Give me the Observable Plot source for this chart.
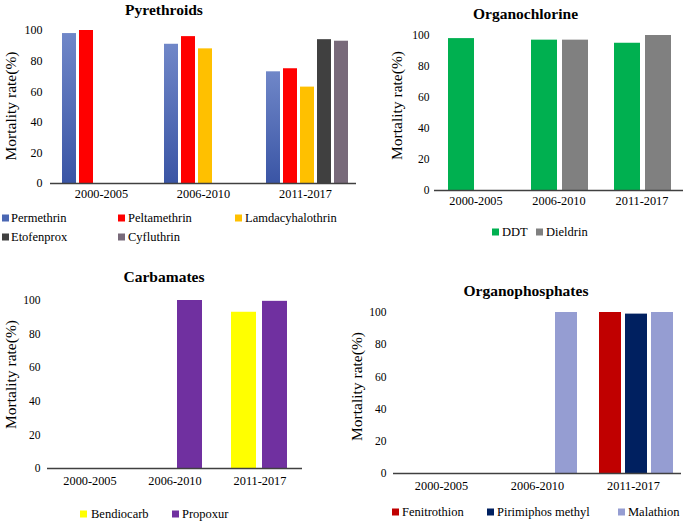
<!DOCTYPE html>
<html><head><meta charset="utf-8">
<script src="https://cdn.jsdelivr.net/npm/d3@7"></script>
<script src="https://cdn.jsdelivr.net/npm/@observablehq/plot@0.6"></script>
<style>
body{margin:0;background:#fff;}
#chart{position:relative;width:685px;height:522px;overflow:hidden;font-family:"Liberation Serif","Times New Roman",serif;color:#000;}
.title{position:absolute;font-weight:bold;font-size:15.5px;transform:translate(-50%,-50%);white-space:nowrap;line-height:1;}
.leg{position:absolute;font-size:12.5px;white-space:nowrap;transform:translateY(-50%);line-height:1;}
.sw{position:absolute;width:7px;height:7px;transform:translateY(-50%);}
.panel{position:absolute;}
</style></head><body><div id="chart"></div>
<script>
// ---- data ----
const periods = ["2000-2005", "2006-2010", "2011-2017"];
const yTicks = [0, 20, 40, 60, 80, 100];
const yLabel = "Mortality rate(%)";

// Pyrethroids
const pyrSeries = ["Permethrin", "Peltamethrin", "Lamdacyhalothrin", "Etofenprox", "Cyfluthrin"];
const permethrin = [98, 91, 73];
const peltamethrin = [100, 96, 75];
const lamdacyhalothrin = [null, 88, 63];
const etofenprox = [null, null, 94];
const cyfluthrin = [null, null, 93];
const pyrColors = ["url(#permGrad)", "#ff0000", "#ffc000", "#404040", "#786a7a"];
const pyrLegendColors = ["#4a67b3", "#ff0000", "#ffc000", "#404040", "#786a7a"];

// Organochlorine
const ocSeries = ["DDT", "Dieldrin"];
const ddt = [98, 97, 95];
const dieldrin = [null, 97, 100];
const ocColors = ["#00b050", "#808080"];

// Carbamates
const cbSeries = ["Bendiocarb", "Propoxur"];
const bendiocarb = [null, null, 93];
const propoxur = [null, 100, 99.5];
const cbColors = ["#ffff00", "#7030a0"];

// Organophosphates
const opSeries = ["Fenitrothion", "Pirimiphos methyl", "Malathion"];
const fenitrothion = [null, null, 100];
const pirimiphos = [null, null, 99];
const malathion = [null, 100, 100];
const opColors = ["#c00000", "#002060", "#959dd2"];

function rowsFrom(series, arrays) {
  const out = [];
  series.forEach((s, i) => arrays[i].forEach((v, j) => {
    if (v != null) out.push({period: periods[j], series: s, value: v});
  }));
  return out;
}

const chart = document.getElementById("chart");

function addDiv(cls, css, text) {
  const d = document.createElement("div");
  d.className = cls;
  Object.assign(d.style, css);
  if (text != null) d.textContent = text;
  chart.appendChild(d);
  return d;
}

function makePanel(cfg) {
  const rows = rowsFrom(cfg.series, cfg.values);
  const frameTop = cfg.mt, frameBottom = cfg.height - cfg.mb;
  const svg = Plot.plot({
    width: cfg.width, height: cfg.height,
    marginLeft: cfg.ml, marginRight: cfg.mr, marginTop: cfg.mt, marginBottom: cfg.mb,
    style: {fontFamily: '"Liberation Serif", "Times New Roman", serif', background: "transparent", overflow: "visible", color: "#000"},
    fx: {domain: periods, padding: 0},
    x: {domain: cfg.series, paddingInner: cfg.pi, paddingOuter: cfg.po, align: cfg.align, axis: null},
    y: {domain: [0, 100], axis: null},
    color: {domain: cfg.series, range: cfg.colors},
    marks: [
      Plot.barY(rows, {fx: "period", x: "series", y: "value", fill: "series"}),
      Plot.ruleY([0], {stroke: "#404040", strokeWidth: 1.5}),
      Plot.axisY({ticks: yTicks, tickSize: 0, tickPadding: cfg.tp, fontSize: cfg.tf, label: null, line: true, stroke: "#404040", strokeWidth: 1.5}),
      Plot.axisFx({anchor: "bottom", tickSize: 0, tickPadding: cfg.cp, fontSize: 12.3, label: null}),
      Plot.text([{period: periods[0]}], {fx: "period", frameAnchor: "left", rotate: -90, textAnchor: "middle",
        text: () => yLabel, dx: cfg.ylx - (cfg.left + cfg.ml), dy: cfg.yly - (cfg.top + (frameTop + frameBottom) / 2),
        fontSize: 15.5, fill: "#000"})
    ]
  });
  d3.select(svg).insert("defs", ":first-child").html(
    '<linearGradient id="permGrad" x1="0" y1="0" x2="0" y2="1">' +
    '<stop offset="0" stop-color="#7087c8"/><stop offset="1" stop-color="#3a55a5"/></linearGradient>');
  const wrap = addDiv("panel", {left: cfg.left + "px", top: cfg.top + "px", width: cfg.width + "px", height: cfg.height + "px"});
  wrap.appendChild(svg);
  addDiv("title", {left: cfg.title[1] + "px", top: cfg.title[2] + "px"}, cfg.title[0]);
  cfg.legend.forEach(([name, color, sx, tx, y]) => {
    addDiv("sw", {left: sx + "px", top: y + "px", background: color});
    addDiv("leg", {left: tx + "px", top: y + "px"}, name);
  });
}

makePanel({
  left: 0, top: 20, width: 360, height: 195, ml: 49, mr: 4, mt: 10, mb: 32,
  series: pyrSeries, colors: pyrColors,
  values: [permethrin, peltamethrin, lamdacyhalothrin, etofenprox, cyfluthrin],
  pi: 0.167, po: 0.43, align: 0.6, tp: 8, tf: 12, cp: 6,
  ylx: 10, yly: 105.5,
  title: ["Pyrethroids", 164, 9.5],
  legend: [
    [pyrSeries[0], pyrLegendColors[0], 2, 11, 218],
    [pyrSeries[1], pyrLegendColors[1], 118, 128, 218],
    [pyrSeries[2], pyrLegendColors[2], 235, 245, 218],
    [pyrSeries[3], pyrLegendColors[3], 2, 11, 237],
    [pyrSeries[4], pyrLegendColors[4], 118, 128, 237]
  ]
});

makePanel({
  left: 380, top: 20, width: 305, height: 195, ml: 53, mr: 1, mt: 15, mb: 25,
  series: ocSeries, colors: ocColors,
  values: [ddt, dieldrin],
  pi: 0.175, po: 0.413, align: 0.53, tp: 5, tf: 11.5, cp: 6,
  ylx: 395.5, yly: 105,
  title: ["Organochlorine", 525.5, 13.5],
  legend: [
    [ocSeries[0], ocColors[0], 492, 502, 232],
    [ocSeries[1], ocColors[1], 536, 546, 232]
  ]
});

makePanel({
  left: 0, top: 285, width: 320, height: 205, ml: 46, mr: 17, mt: 15, mb: 22,
  series: cbSeries, colors: cbColors,
  values: [bendiocarb, propoxur],
  pi: 0.19, po: 0.44, align: 0.5, tp: 7, tf: 11.5, cp: 8,
  ylx: 9.5, yly: 374,
  title: ["Carbamates", 164, 277],
  legend: [
    [cbSeries[0], cbColors[0], 80, 91, 514],
    [cbSeries[1], cbColors[1], 172, 182, 514]
  ]
});

makePanel({
  left: 345, top: 295, width: 340, height: 200, ml: 47, mr: 3, mt: 17, mb: 22,
  series: opSeries, colors: opColors,
  values: [fenitrothion, pirimiphos, malathion],
  pi: 0.17, po: 0.425, align: 0.61, tp: 7, tf: 11.5, cp: 8,
  ylx: 355.5, yly: 386,
  title: ["Organophosphates", 526, 291],
  legend: [
    [opSeries[0], opColors[0], 392, 402, 512],
    [opSeries[1], opColors[1], 487, 497, 512],
    [opSeries[2], opColors[2], 618, 628, 512]
  ]
});
</script></body></html>
